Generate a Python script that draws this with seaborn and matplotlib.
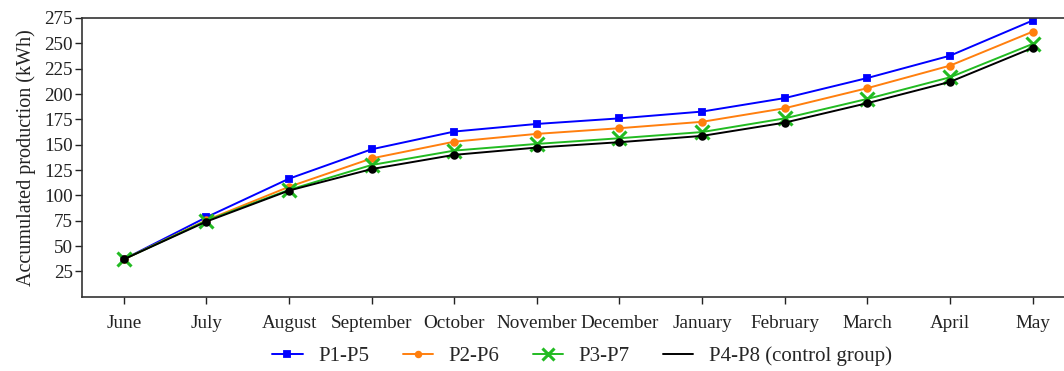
import matplotlib
matplotlib.use("Agg")
import matplotlib.pyplot as plt
from matplotlib.lines import Line2D
import seaborn as sns
import pandas as pd

months = ["June", "July", "August", "September", "October", "November",
          "December", "January", "February", "March", "April", "May"]
p1_p5 = [37, 78.5, 116.5, 145.5, 163, 170.5, 176, 182.7, 196, 215.8, 237.8, 272.5]
p2_p6 = [37, 75.5, 108.5, 136.5, 153, 160.7, 166.3, 172.6, 186, 205.8, 228, 261.5]
p3_p7 = [37, 75, 105.5, 130, 144.2, 150.8, 156.4, 162.5, 176, 195.2, 216.5, 249.4]
p4_p8 = [37, 74.2, 104.8, 126, 140, 147.2, 152.5, 158.7, 171.8, 191, 212, 245.5]
yticks = [25, 50, 75, 100, 125, 150, 175, 200, 225, 250, 275]

sns.set_theme(style="white")
plt.rcParams["font.family"] = ["Liberation Serif", "DejaVu Serif"]

FS = 13.8
x = list(range(len(months)))
fig = plt.figure(figsize=(10.64, 3.71), dpi=100)
ax = fig.add_axes([0.0775, 0.2, 0.9225, 0.7515])

series = [
    ("P1-P5", p1_p5, "#0000ff", "s", 4.8, 1.3),
    ("P2-P6", p2_p6, "#ff7f0e", "o", 4.8, 1.3),
    ("P3-P7", p3_p7, "#22bb22", "x", 10, 2.2),
    ("P4-P8 (control group)", p4_p8, "#000000", "o", 4.8, 1.3),
]
handles = []
for name, vals, col, mk, ms, mew in series:
    df = pd.DataFrame({"x": x, "y": vals})
    sns.lineplot(data=df, x="x", y="y", ax=ax, color=col, lw=1.4,
                 marker=mk, markersize=ms, markeredgewidth=mew,
                 markeredgecolor=col, markerfacecolor=col)
    if name.startswith("P4"):
        handles.append(Line2D([], [], color=col, lw=1.4))
    else:
        handles.append(Line2D([], [], color=col, lw=1.4, marker=mk,
                              markersize=ms * 0.85, markeredgewidth=mew,
                              markeredgecolor=col, markerfacecolor=col))

ax.set_xlim(-0.5, 11.38)
ax.set_ylim(0, 275)
ax.set_xticks(x)
ax.set_xticklabels(months, fontsize=FS)
ax.set_yticks(yticks)
ax.set_yticklabels([str(t) for t in yticks], fontsize=FS)
ax.set_xlabel("")
ax.set_ylabel("Accumulated production (kWh)", fontsize=14.5, color="#222222", labelpad=6)
ax.tick_params(axis="x", direction="out", length=5, width=1, colors="#222222",
               bottom=True, pad=8)
ax.tick_params(axis="y", direction="out", length=5, width=1, colors="#222222",
               left=True, pad=2)
for s in ["left", "bottom", "top"]:
    ax.spines[s].set_color("#333333")
    ax.spines[s].set_linewidth(1.2)
ax.spines["right"].set_visible(False)

fig.legend(handles, [s[0] for s in series], loc="center", bbox_to_anchor=(0.547, 0.04),
           ncol=4, frameon=False, fontsize=15, handlelength=1.45, columnspacing=1.6,
           handletextpad=0.75)

fig.savefig("out.png", dpi=100)
